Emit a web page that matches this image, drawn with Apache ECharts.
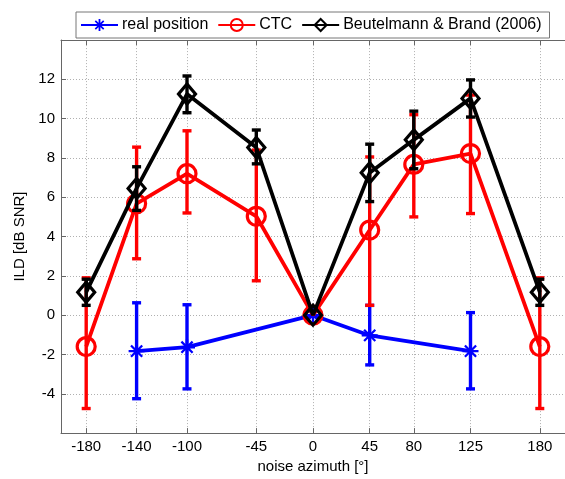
<!DOCTYPE html>
<html>
<head>
<meta charset="utf-8">
<script src="https://cdn.jsdelivr.net/npm/echarts@6/dist/echarts.min.js"></script>
<style>html,body{margin:0;padding:0;background:#fff;}#c{width:565px;height:479px;}</style>
</head>
<body>
<div id="c"></div>
<script>
// ---- data ----
const xTicks = [-180, -140, -100, -45, 0, 45, 80, 125, 180];
const azimuths = [-180, -140, -100, -45, 0, 45, 80, 125, 180];
const realAz = [-140, -100, 0, 45, 125];
const realMean = [-1.83, -1.63, 0, -1.03, -1.83];
const realLow = [-4.25, -3.75, 0, -2.53, -3.75];
const realHigh = [0.63, 0.53, 0, 0.5, 0.13];
const ctcMean = [-1.6, 5.67, 7.2, 5.03, 0, 4.33, 7.67, 8.22, -1.6];
const ctcLow = [-4.75, 2.87, 5.2, 1.75, 0, 0.5, 5.0, 5.17, -4.75];
const ctcHigh = [1.9, 8.55, 9.38, 8.4, 0, 8.05, 10.2, 11.2, 1.9];
const bbMean = [1.17, 6.45, 11.25, 8.53, 0, 7.25, 8.92, 11.03, 1.17];
const bbLow = [0.5, 5.33, 10.3, 7.7, 0, 5.78, 7.45, 10.08, 0.5];
const bbHigh = [1.83, 7.55, 12.17, 9.42, 0, 8.7, 10.38, 11.97, 1.83];
const yLabels = [-4, -2, 0, 2, 4, 6, 8, 10, 12];

const starPath = 'path://M8.5,0L11.5,0L11.5,20L8.5,20Z M0,8.5L20,8.5L20,11.5L0,11.5Z ' +
  'M4,2L18,16L16,18L2,4Z M16,2L18,4L4,18L2,16Z';

function pairs(xs, ys) { return xs.map((x, i) => [x, ys[i]]); }
function errData(xs, lo, hi) { return xs.map((x, i) => [x, lo[i], hi[i]]); }

function errSeries(name, color, data, z) {
  return {
    type: 'custom', name: name, z: z, silent: true,
    data: data,
    encode: { x: 0, y: [1, 2] },
    renderItem: function (params, api) {
      const x = api.value(0), lo = api.value(1), hi = api.value(2);
      if (lo === hi) return null;
      const a = api.coord([x, lo]), b = api.coord([x, hi]);
      const w = 4.5;
      const st = { stroke: color, lineWidth: 3.4 };
      return {
        type: 'group',
        children: [
          { type: 'line', shape: { x1: a[0], y1: a[1], x2: b[0], y2: b[1] }, style: st },
          { type: 'line', shape: { x1: a[0] - w, y1: a[1], x2: a[0] + w, y2: a[1] }, style: st },
          { type: 'line', shape: { x1: b[0] - w, y1: b[1], x2: b[0] + w, y2: b[1] }, style: st }
        ]
      };
    }
  };
}

const font = 'Liberation Sans, Arial, sans-serif';
const gridLine = { show: true, lineStyle: { color: '#b0b0b0', type: [1, 2], width: 1 } };

const chart = echarts.init(document.getElementById('c'), null, { renderer: 'canvas' });
chart.setOption({
  animation: false,
  backgroundColor: '#fff',
  grid: { left: 61, top: 40, width: 505, height: 400 },
  legend: {
    data: ['real position', 'CTC', 'Beutelmann & Brand (2006)'],
    left: 76, top: 12,
    padding: [5, 8, 5, 4],
    itemGap: 9,
    itemWidth: 37, itemHeight: 15,
    borderColor: '#777', borderWidth: 1, backgroundColor: '#fff',
    textStyle: { fontFamily: font, fontSize: 16, color: '#000', padding: [0, 0, 0, -1] }
  },
  xAxis: [{
    type: 'value', min: -200, max: 200,
    name: 'noise azimuth [°]', nameLocation: 'middle', nameGap: 24,
    nameTextStyle: { fontFamily: font, fontSize: 15, color: '#000' },
    axisLine: { show: true, onZero: false, lineStyle: { color: '#666', width: 1 } },
    axisTick: { show: true, inside: true, length: 5, customValues: xTicks, lineStyle: { color: '#666' } },
    axisLabel: { customValues: xTicks, fontFamily: font, fontSize: 15, color: '#000', margin: 6 },
    splitLine: { show: false }
  }, {
    type: 'value', min: -200, max: 200, position: 'top',
    axisLine: { show: true, onZero: false, lineStyle: { color: '#666', width: 1 } },
    axisTick: { show: true, inside: true, length: 5, customValues: xTicks, lineStyle: { color: '#666' } },
    axisLabel: { show: false },
    splitLine: { show: false }
  }],
  yAxis: {
    type: 'value', min: -6, max: 14, interval: 2,
    name: 'ILD [dB SNR]', nameLocation: 'middle', nameGap: 32,
    nameTextStyle: { fontFamily: font, fontSize: 15, color: '#000' },
    axisLine: { show: true, onZero: false, lineStyle: { color: '#666', width: 1 } },
    axisTick: { show: true, inside: true, length: 5, lineStyle: { color: '#666' } },
    axisLabel: {
      fontFamily: font, fontSize: 15, color: '#000', margin: 6,
      formatter: function (v) { return yLabels.indexOf(v) >= 0 ? String(v) : ''; }
    },
    splitLine: gridLine
  },
  series: [
    {
      type: 'line', name: 'grid', data: [], silent: true, z: 0,
      markLine: {
        z: 0,
        silent: true, symbol: ['none', 'none'], label: { show: false },
        lineStyle: { color: '#b0b0b0', type: [1, 2], width: 1 },
        data: xTicks.map(v => ({ xAxis: v }))
      }
    },
    errSeries('real err', '#0000ff', errData(realAz, realLow, realHigh), 2),
    {
      type: 'line', name: 'real position', z: 3,
      data: pairs(realAz, realMean),
      symbol: starPath, symbolSize: 16, showAllSymbol: true,
      lineStyle: { color: '#0000ff', width: 3.8 },
      itemStyle: { color: '#0000ff' }
    },
    errSeries('ctc err', '#ff0000', errData(azimuths, ctcLow, ctcHigh), 4),
    {
      type: 'line', name: 'CTC', z: 5,
      data: pairs(azimuths, ctcMean),
      symbol: 'circle', symbolSize: 18, showAllSymbol: true,
      lineStyle: { color: '#ff0000', width: 3.8 },
      itemStyle: { color: 'rgba(255,255,255,0)', borderColor: '#ff0000', borderWidth: 3.2 }
    },
    errSeries('bb err', '#000000', errData(azimuths, bbLow, bbHigh), 6),
    {
      type: 'line', name: 'Beutelmann & Brand (2006)', z: 7,
      data: pairs(azimuths, bbMean),
      symbol: 'diamond', symbolSize: [17, 20], showAllSymbol: true,
      lineStyle: { color: '#000000', width: 3.8 },
      itemStyle: { color: 'rgba(255,255,255,0)', borderColor: '#000000', borderWidth: 3.2 }
    }
  ]
});
</script>
</body>
</html>
